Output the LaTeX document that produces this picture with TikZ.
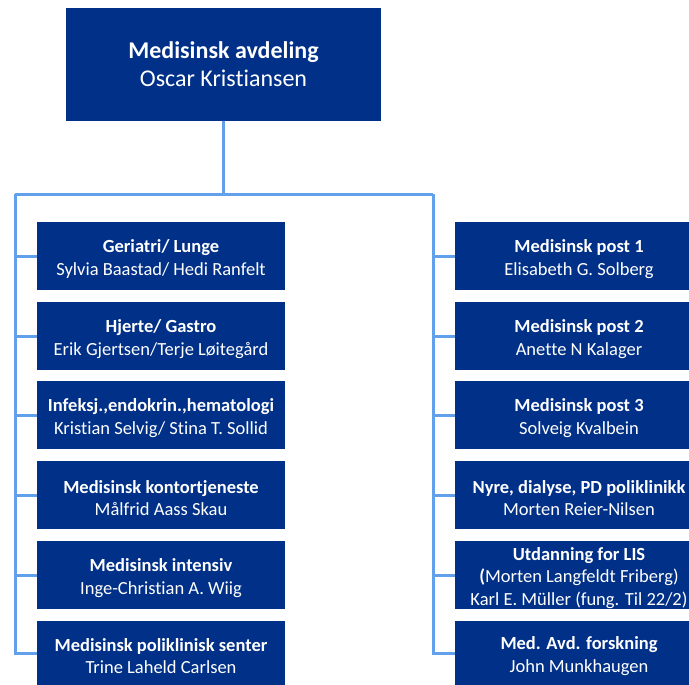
\documentclass[tikz,border=0pt]{standalone}
\usepackage{fontspec}
\setmainfont[Ligatures=NoCommon]{Carlito}
\definecolor{avdblue}{RGB}{0,48,135}
\definecolor{linkblue}{RGB}{99,160,235}
\newcommand{\unittext}[2]{\rule{0pt}{19pt}\textbf{#1}\\#2}

\begin{document}
\begin{tikzpicture}[x=1pt,y=-1pt,
	headbox/.style={fill=avdblue,text=white,minimum width=315pt,minimum height=113pt,inner sep=0pt,align=center,font=\fontsize{24}{28}\selectfont},
	unitbox/.style={fill=avdblue,text=white,minimum width=248pt,minimum height=68pt,inner sep=0pt,align=center,font=\fontsize{18.5}{22.5}\selectfont},
	link/.style={linkblue,line width=3pt}]
	\useasboundingbox (0,0) rectangle (689,685);
	\clip (0,0) rectangle (689,685);

	\node[headbox] (head) at (223.5,64.5) {\textbf{Medisinsk avdeling}\\Oscar Kristiansen};

	% left column
	\node[unitbox] (l1) at (161,256) {\unittext{Geriatri/ Lunge}{Sylvia Baastad/ Hedi Ranfelt}};
	\node[unitbox] (l2) at (161,336) {\unittext{Hjerte/ Gastro}{Erik Gjertsen/Terje Løitegård}};
	\node[unitbox] (l3) at (161,415) {\unittext{Infeksj.,endokrin.,hematologi}{Kristian Selvig/ Stina T. Sollid}};
	\node[unitbox] (l4) at (161,495) {\unittext{Medisinsk kontortjeneste}{Målfrid Aass Skau}};
	\node[unitbox] (l5) at (161,575) {\unittext{Medisinsk intensiv}{Inge-Christian A. Wiig}};
	\node[unitbox,minimum height=64pt] (l6) at (161,653) {\unittext{Medisinsk poliklinisk senter}{Trine Laheld Carlsen}};

	% right column
	\node[unitbox] (r1) at (579,256) {\unittext{Medisinsk post 1}{Elisabeth G. Solberg}};
	\node[unitbox] (r2) at (579,336) {\unittext{Medisinsk post 2}{Anette N Kalager}};
	\node[unitbox] (r3) at (579,415) {\unittext{Medisinsk post 3}{Solveig Kvalbein}};
	\node[unitbox] (r4) at (579,495) {\unittext{Nyre, dialyse, PD poliklinikk}{Morten Reier-Nilsen}};
	\node[unitbox] (r5) at (579,575) {\unittext{Utdanning for LIS}{\textbf{(}Morten Langfeldt Friberg)\\Karl E. Müller (fung. Til 22/2)}};
	\node[unitbox,minimum height=64pt] (r6) at (579,653) {\unittext{Med. Avd. forskning}{John Munkhaugen}};

	\coordinate (fork) at (223.5,194);
	\coordinate (lbus) at (15,194);
	\coordinate (rbus) at (433,194);

	\draw[link] (head.south) -- (fork);
	\draw[link] (lbus) -- (rbus);
	\draw[link] (lbus) |- (l6.west);
	\draw[link] (rbus) |- (r6.west);
	\foreach \n in {1,...,5}
		\draw[link] (lbus |- l\n.west) -- (l\n.west);
	\foreach \n in {1,...,5}
		\draw[link] (rbus |- r\n.west) -- (r\n.west);

\end{tikzpicture}
\end{document}
